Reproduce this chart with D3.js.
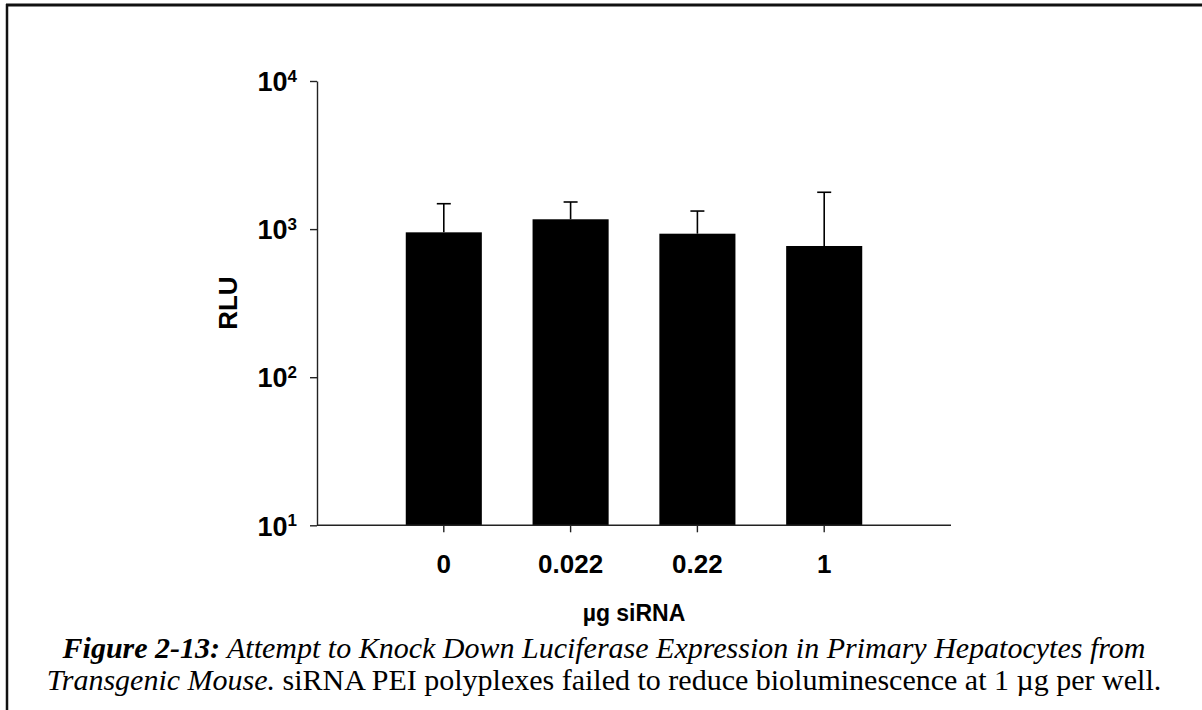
<!DOCTYPE html>
<html>
<head>
<meta charset="utf-8">
<script src="https://cdn.jsdelivr.net/npm/d3@7"></script>
<style>
  html, body { margin: 0; padding: 0; background: #fff; }
  svg { display: block; }
</style>
</head>
<body>
<svg id="fig" width="1202" height="710"></svg>
<script>
// siRNA dose per well (µg) and mean luminescence with upper error
const doses = ["0", "0.022", "0.22", "1"];
const rluMean = [951, 1165, 931, 769];
const rluError = [533, 359, 393, 1004];
const yTicks = [10, 100, 1000, 10000];

const svg = d3.select("#fig");
const sans = "'Liberation Sans', Arial, sans-serif";
const serif = "'Liberation Serif', 'Times New Roman', serif";

// Figure frame (top and left rules)
svg.append("line").attr("x1", 6).attr("x2", 1202).attr("y1", 5).attr("y2", 5)
  .attr("stroke", "#111").attr("stroke-width", 3);
svg.append("line").attr("x1", 7).attr("x2", 7).attr("y1", 4).attr("y2", 710)
  .attr("stroke", "#111").attr("stroke-width", 2.5);

const plot = { left: 317, right: 951, top: 81, bottom: 525.3 };

const x = d3.scaleBand()
  .domain(doses)
  .range([plot.left, plot.right])
  .paddingInner(0.4)
  .paddingOuter(0.7);

const y = d3.scaleLog()
  .domain([10, 10000])
  .range([plot.bottom, plot.top]);

const g = svg.append("g");

// Bars
g.selectAll("rect.bar")
  .data(doses)
  .join("rect")
  .attr("class", "bar")
  .attr("x", d => x(d))
  .attr("width", x.bandwidth())
  .attr("y", (d, i) => y(rluMean[i]))
  .attr("height", (d, i) => plot.bottom - y(rluMean[i]))
  .attr("fill", "#000");

// Upper error bars
const capHalf = 7;
const errs = g.selectAll("g.err")
  .data(doses)
  .join("g")
  .attr("class", "err")
  .attr("stroke", "#000")
  .attr("stroke-width", 1.6);
errs.append("line")
  .attr("x1", d => x(d) + x.bandwidth() / 2)
  .attr("x2", d => x(d) + x.bandwidth() / 2)
  .attr("y1", (d, i) => y(rluMean[i]))
  .attr("y2", (d, i) => y(rluMean[i] + rluError[i]));
errs.append("line")
  .attr("x1", d => x(d) + x.bandwidth() / 2 - capHalf)
  .attr("x2", d => x(d) + x.bandwidth() / 2 + capHalf)
  .attr("y1", (d, i) => y(rluMean[i] + rluError[i]))
  .attr("y2", (d, i) => y(rluMean[i] + rluError[i]));

// Y axis (log decades with superscript exponents)
const yAxis = g.append("g")
  .attr("transform", `translate(${plot.left},0)`)
  .call(d3.axisLeft(y).tickValues(yTicks).tickSize(7).tickPadding(13).tickSizeOuter(0).tickFormat(() => ""));
yAxis.selectAll("path, line").attr("stroke", "#222").attr("stroke-width", 1.4);
yAxis.selectAll(".tick text").each(function (d) {
  const t = d3.select(this)
    .attr("font-family", sans).attr("font-weight", "bold").attr("font-size", 27)
    .attr("fill", "#000").attr("dy", "0.36em");
  t.text(null);
  t.append("tspan").text("10");
  t.append("tspan").attr("font-size", 17).attr("dy", "-0.55em").text(Math.round(Math.log10(d)));
});

// X axis
const xAxis = g.append("g")
  .attr("transform", `translate(0,${plot.bottom})`)
  .call(d3.axisBottom(x).tickSize(7).tickPadding(22).tickSizeOuter(0));
xAxis.select(".domain").attr("d", `M${plot.left},0H${plot.right}`);
xAxis.selectAll("path, line").attr("stroke", "#222").attr("stroke-width", 1.4);
xAxis.selectAll(".tick text")
  .attr("font-family", sans).attr("font-weight", "bold").attr("font-size", 26).attr("fill", "#000");

// Axis titles
svg.append("text")
  .attr("transform", `translate(237,${(plot.top + plot.bottom) / 2}) rotate(-90)`)
  .attr("text-anchor", "middle")
  .attr("font-family", sans).attr("font-weight", "bold").attr("font-size", 26)
  .text("RLU");
svg.append("text")
  .attr("x", (plot.left + plot.right) / 2).attr("y", 621)
  .attr("text-anchor", "middle")
  .attr("font-family", sans).attr("font-weight", "bold").attr("font-size", 23)
  .text("µg siRNA");

// Caption
const cap1 = svg.append("text")
  .attr("x", 604).attr("y", 658).attr("text-anchor", "middle")
  .attr("font-family", serif).attr("font-size", 30).attr("fill", "#000");
cap1.append("tspan").attr("font-weight", "bold").attr("font-style", "italic").text("Figure 2-13:");
cap1.append("tspan").attr("font-style", "italic").text(" Attempt to Knock Down Luciferase Expression in Primary Hepatocytes from");

const cap2 = svg.append("text")
  .attr("x", 604).attr("y", 690).attr("text-anchor", "middle")
  .attr("font-family", serif).attr("font-size", 30).attr("fill", "#000");
cap2.append("tspan").attr("font-style", "italic").text("Transgenic Mouse.");
cap2.append("tspan").text(" siRNA PEI polyplexes failed to reduce bioluminescence at 1 µg per well.");
</script>
</body>
</html>
